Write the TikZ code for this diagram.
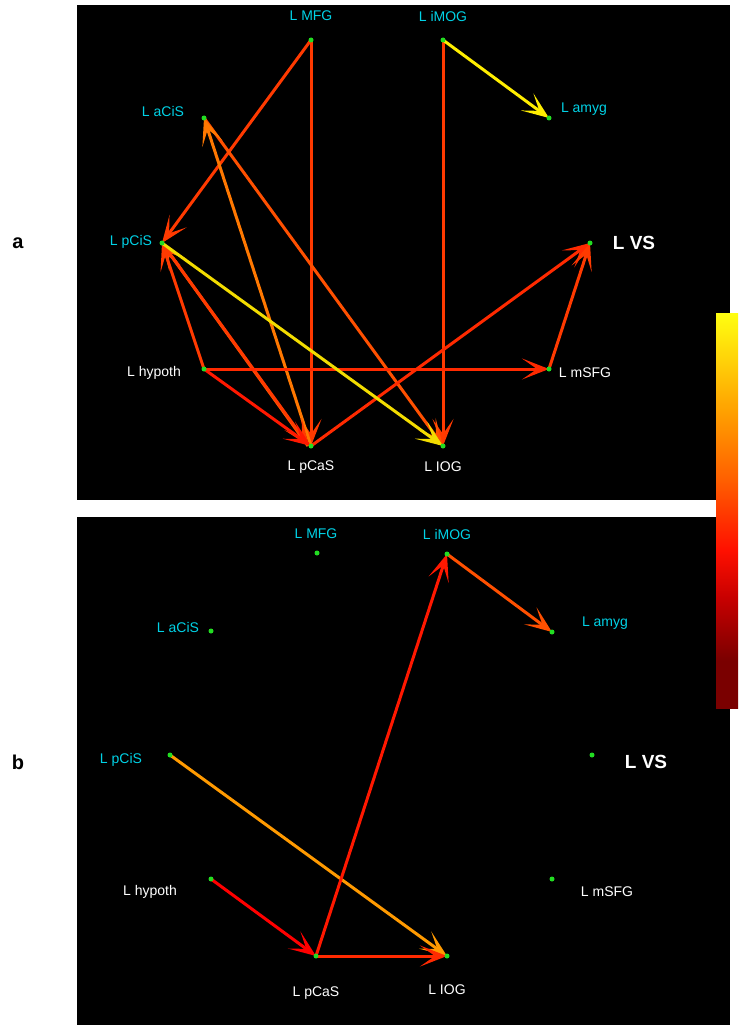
\documentclass[tikz,border=0pt]{standalone}
\usepackage{fontspec}
\setmainfont{Liberation Sans}
\usetikzlibrary{arrows.meta}
\definecolor{cyanlab}{HTML}{00D2E6}
\definecolor{dotgreen}{HTML}{22DD22}
\definecolor{cYel}{HTML}{FFEE00}
\definecolor{cYel2}{HTML}{F2DC00}
\definecolor{cR1}{HTML}{FF2A00}
\definecolor{cR2}{HTML}{FF3A00}
\definecolor{cR3}{HTML}{FF1800}
\definecolor{cO1}{HTML}{FF7800}
\definecolor{cO2}{HTML}{FF5000}
\definecolor{cO3}{HTML}{FF9A00}
\definecolor{cO4}{HTML}{FF5A00}
\definecolor{cbA}{HTML}{7A0000}
\definecolor{cbB}{HTML}{C80000}
\definecolor{cbC}{HTML}{FF1000}
\definecolor{cbD}{HTML}{FF6000}
\definecolor{cbE}{HTML}{FFA000}
\definecolor{cbF}{HTML}{FFFF10}
\pgfdeclareverticalshading{hotbar}{100bp}{color(0bp)=(cbA); color(31bp)=(cbA); color(39bp)=(cbB); color(45bp)=(cbC); color(54bp)=(cbD); color(62.5bp)=(cbE); color(75bp)=(cbF); color(100bp)=(cbF)}
\tikzset{
  lab/.style={font=\fontsize{14}{16}\selectfont, inner sep=0pt},
  cyanl/.style={lab, text=cyanlab},
  whitel/.style={lab, text=white},
  vsl/.style={font=\bfseries\fontsize{19}{21}\selectfont, inner sep=0pt, text=white},
  panl/.style={font=\bfseries\fontsize{20}{22}\selectfont, inner sep=0pt},
  conn/.style={line width=3pt, -{Stealth[length=27pt,width=21pt,inset=15pt]}},
  dot/.style={circle, fill=dotgreen, inner sep=0pt, minimum size=5pt},
}
\begin{document}
\begin{tikzpicture}[x=1pt,y=-1pt]
\useasboundingbox[fill=white] (0,0) rectangle (744,1030);
\fill[black] (77,5) rectangle (730,500);
\fill[black] (77,517) rectangle (730,1025);
\node[panl] (pa) at (18,243) {a};
\node[panl] (pb) at (18,762) {b};
% colorbar
\shade[shading=hotbar] (716,313) rectangle (738,708);
\node[lab] (cmax) at (691,321) {0.4};
\node[lab] (cmin) at (690,703) {0.1};

% ---------- panel a ----------
\coordinate (aMFG) at (311,40);
\coordinate (aiMOG) at (443,40);
\coordinate (aamyg) at (549,118);
\coordinate (aaCiS) at (204,118);
\coordinate (apCiS) at (162,243);
\coordinate (aVS) at (590,243);
\coordinate (ahyp) at (204,369);
\coordinate (amSFG) at (549,369);
\coordinate (apCaS) at (311,446);
\coordinate (aIOG) at (443,446);

\node[cyanl] (laMFG) at (311,16) {L MFG};
\node[cyanl] (laiMOG) at (443,16) {L iMOG};
\node[cyanl] (laamyg) at (584,109) {L amyg};
\node[cyanl] (laaCiS) at (163,111) {L aCiS};
\node[cyanl] (lapCiS) at (131,242) {L pCiS};
\node[vsl] (laVS) at (634,243) {L VS};
\node[whitel] (lahyp) at (154,373) {L hypoth};
\node[whitel] (lamSFG) at (585,373) {L mSFG};
\node[whitel] (lapCaS) at (311,467) {L pCaS};
\node[whitel] (laIOG) at (443,467) {L IOG};

\draw[conn, cR2] (aMFG) -- (apCiS);
\draw[conn, cR2] (aMFG) -- (apCaS);
\draw[conn, cR2] (aiMOG) -- (aIOG);
\draw[conn, cO2] (aaCiS) -- (aIOG);
\draw[conn, cO1] (apCaS) -- (aaCiS);
\draw[conn, cO4] ([xshift=-3pt]apCaS) -- (apCiS);
\draw[conn, cR2] (apCiS) -- ([xshift=-2pt]apCaS);
\draw[conn, cR2] (ahyp) -- (apCiS);
\draw[conn, cR3] (ahyp) -- (apCaS);
\draw[conn, cR1] (ahyp) -- (amSFG);
\draw[conn, cR1] (apCaS) -- (aVS);
\draw[conn, cR2] (amSFG) -- (aVS);
\draw[conn, cYel2] (apCiS) -- (aIOG);
\draw[conn, cYel] (aiMOG) -- (aamyg);

\foreach \n in {aMFG,aiMOG,aamyg,aaCiS,apCiS,aVS,ahyp,amSFG,apCaS,aIOG}
  \node[dot] at (\n) {};

% ---------- panel b ----------
\coordinate (bMFG) at (317,553);
\coordinate (biMOG) at (447,554);
\coordinate (bamyg) at (552,632);
\coordinate (baCiS) at (211,631);
\coordinate (bpCiS) at (170,755);
\coordinate (bVS) at (592,755);
\coordinate (bhyp) at (211,879);
\coordinate (bmSFG) at (552,879);
\coordinate (bpCaS) at (316,956);
\coordinate (bIOG) at (447,956);

\node[cyanl] (lbMFG) at (316,534) {L MFG};
\node[cyanl] (lbiMOG) at (447,534) {L iMOG};
\node[cyanl] (lbamyg) at (605,623) {L amyg};
\node[cyanl] (lbaCiS) at (178,627) {L aCiS};
\node[cyanl] (lbpCiS) at (121,760) {L pCiS};
\node[vsl] (lbVS) at (646,762) {L VS};
\node[whitel] (lbhyp) at (150,892) {L hypoth};
\node[whitel] (lbmSFG) at (607,892) {L mSFG};
\node[whitel] (lbpCaS) at (316,993) {L pCaS};
\node[whitel] (lbIOG) at (447,990) {L IOG};

\draw[conn, cO3] (bpCiS) -- (bIOG);
\draw[conn, cR3] (bpCaS) -- (biMOG);
\draw[conn, red] (bhyp) -- (bpCaS);
\draw[conn, cR1] (bpCaS) -- (bIOG);
\draw[conn, cO2] (biMOG) -- (bamyg);

\foreach \n in {bMFG,biMOG,bamyg,baCiS,bpCiS,bVS,bhyp,bmSFG,bpCaS,bIOG}
  \node[dot] at (\n) {};
\end{tikzpicture}
\end{document}
